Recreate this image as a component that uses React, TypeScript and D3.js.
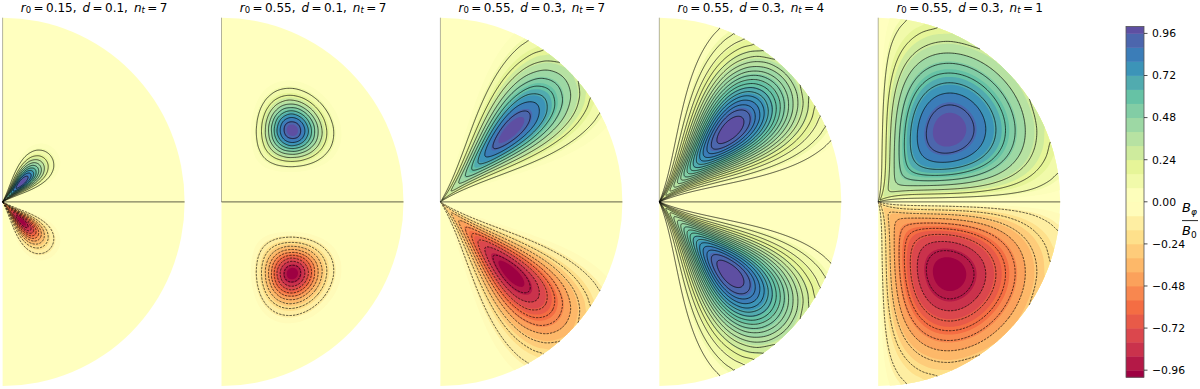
import React from "react";
import * as d3 from "d3";

// ---- values ----
const panelTitles = [
  { r0: "0.15", d: "0.1", nt: "7" },
  { r0: "0.55", d: "0.1", nt: "7" },
  { r0: "0.55", d: "0.3", nt: "7" },
  { r0: "0.55", d: "0.3", nt: "4" },
  { r0: "0.55", d: "0.3", nt: "1" },
];
// radius knots 0, 0.05 ... 1 (fraction of the half-disc radius)
const radialA = [0.325, 0.607, 0.882, 1, 0.882, 0.607, 0.325, 0.135, 0.044, 0.011, 0.002, 0, 0, 0, 0, 0, 0, 0, 0, 0, 0];
const radialB = [0, 0, 0, 0, 0.002, 0.011, 0.044, 0.135, 0.325, 0.607, 0.882, 1, 0.882, 0.607, 0.325, 0.135, 0.044, 0.011, 0.002, 0, 0];
const radialC = [0.186, 0.249, 0.325, 0.411, 0.506, 0.607, 0.707, 0.801, 0.882, 0.946, 0.986, 1, 0.986, 0.946, 0.882, 0.801, 0.707, 0.607, 0.506, 0.411, 0.325];
// polar-angle knots 0, 5 ... 90 degrees from the pole
const angular7 = [0, 0, 0.0006, 0.0078, 0.0454, 0.155, 0.365, 0.647, 0.9, 1, 0.9, 0.647, 0.365, 0.155, 0.0454, 0.0078, 0.0006, 0, 0];
const angular4 = [0, 0.0009, 0.0137, 0.0625, 0.171, 0.344, 0.5625, 0.78, 0.941, 1, 0.941, 0.78, 0.5625, 0.344, 0.171, 0.0625, 0.0137, 0.0009, 0];
const angular1 = [0, 0.174, 0.342, 0.5, 0.643, 0.766, 0.866, 0.94, 0.985, 1, 0.985, 0.94, 0.866, 0.766, 0.643, 0.5, 0.342, 0.174, 0];
const panelRadial = [radialA, radialB, radialC, radialC, radialC];
const panelAngular = [angular7, angular7, angular7, angular4, angular1];
const lowerSign = [-1, -1, -1, 1, -1];
const lineLevels = [
  [0.1, 0.2, 0.3, 0.4, 0.5, 0.6, 0.7, 0.8, 0.9],
  [0.1, 0.2, 0.3, 0.4, 0.5, 0.6, 0.7, 0.8, 0.9],
  [0.1, 0.2, 0.3, 0.4, 0.5, 0.6, 0.7, 0.8, 0.9],
  [0.05, 0.1, 0.15, 0.2, 0.25, 0.3, 0.35, 0.4, 0.45, 0.5, 0.55, 0.6, 0.65, 0.7, 0.75, 0.8, 0.85, 0.9, 0.95],
  [0.1, 0.2, 0.3, 0.4, 0.5, 0.6, 0.7, 0.8, 0.9],
];
const bandEdges = [0.04, 0.08, 0.16, 0.24, 0.32, 0.4, 0.48, 0.56, 0.64, 0.72, 0.8, 0.88, 0.95];
const bandColors = [0.025, 0.11, 0.2, 0.28, 0.36, 0.44, 0.52, 0.6, 0.68, 0.76, 0.84, 0.92, 1];
const colorbarEdges = [-1, -0.96, -0.88, -0.8, -0.72, -0.64, -0.56, -0.48, -0.4, -0.32, -0.24, -0.16, -0.08, 0, 0.08, 0.16, 0.24, 0.32, 0.4, 0.48, 0.56, 0.64, 0.72, 0.8, 0.88, 0.96, 1];
const colorbarColors = [-1, -0.92, -0.84, -0.76, -0.68, -0.6, -0.52, -0.44, -0.36, -0.28, -0.2, -0.11, -0.02, 0.02, 0.11, 0.2, 0.28, 0.36, 0.44, 0.52, 0.6, 0.68, 0.76, 0.84, 0.92, 1];
const colorbarTicks = [0.96, 0.72, 0.48, 0.24, 0, -0.24, -0.48, -0.72, -0.96];
const spectral = ["#9e0142", "#d53e4f", "#f46d43", "#fdae61", "#fee08b", "#ffffbf", "#e6f598", "#abdda4", "#66c2a5", "#3288bd", "#5e4fa2"];
const spectralStops = [-1, -0.8, -0.6, -0.4, -0.2, 0, 0.2, 0.4, 0.6, 0.8, 1];

// ---- layout ----
const W = 1200, H = 389;
const panelX = [2.6, 221.5, 440.4, 659.3, 878.2];
const cy = 201.9;
const Rx = 182, Ry = 184.2;
const cbar = { x: 1126, w: 18, top: 26.4, bottom: 377.2 };
const FONT = "'DejaVu Sans', sans-serif";

const color = d3.scaleLinear<string>().domain(spectralStops).range(spectral).interpolate(d3.interpolateRgb);

// Smooth lookup between the knots of a profile (rendering only).
function sampler(knots: number[]) {
  const n = knots.length - 1;
  return (t: number) => {
    const u = Math.min(Math.max(t, 0), 1) * n;
    const i = Math.min(Math.floor(u), n - 1);
    const f = u - i;
    const p0 = knots[Math.max(i - 1, 0)], p1 = knots[i], p2 = knots[i + 1], p3 = knots[Math.min(i + 2, n)];
    const v = 0.5 * (2 * p1 + (p2 - p0) * f + (2 * p0 - 5 * p1 + 4 * p2 - p3) * f * f + (3 * p1 - p0 - 3 * p2 + p3) * f * f * f);
    return Math.max(v, 0);
  };
}

const NT = 181, NR = 241;

function buildTable(radial: number[], angular: number[]) {
  const fr = sampler(radial), fa = sampler(angular);
  const values = new Float64Array(NT * NR);
  for (let j = 0; j < NR; j++) {
    const a = fr(j / (NR - 1));
    for (let i = 0; i < NT; i++) values[j * NT + i] = a * fa(i / (NT - 1));
  }
  return values;
}

// grid position -> pixel offset from the disc centre (upper half)
function toXY(gx: number, gy: number): [number, number] {
  const th = (Math.min(Math.max(gx - 0.5, 0), NT - 1) / (NT - 1)) * (Math.PI / 2);
  const r = Math.min(Math.max(gy - 0.5, 0), NR - 1) / (NR - 1);
  return [r * Rx * Math.sin(th), -r * Ry * Math.cos(th)];
}

function fillPath(values: Float64Array, level: number, flip: number) {
  const c = d3.contours().size([NT, NR]).contour(values as any, level);
  let out = "";
  for (const poly of c.coordinates) {
    for (const ring of poly) {
      out += "M" + ring.map(([x, y]) => { const p = toXY(x, y); return `${p[0].toFixed(2)},${(p[1] * flip).toFixed(2)}`; }).join("L") + "Z";
    }
  }
  return out;
}

function linePath(values: Float64Array, level: number, flip: number) {
  const c = d3.contours().size([NT, NR]).contour(values as any, level);
  const onEdge = (p: number[]) => p[0] <= 0 || p[0] >= NT || p[1] <= 0 || p[1] >= NR;
  let out = "";
  const gen = d3.line();
  for (const poly of c.coordinates) {
    for (const ring of poly) {
      const pts = ring.slice(0, -1);
      const start = pts.findIndex(onEdge);
      if (start < 0) {
        out += gen(ring.map(([x, y]) => { const p = toXY(x, y); return [p[0], p[1] * flip] as [number, number]; })) + "Z";
        continue;
      }
      let seg: [number, number][] = [];
      for (let k = 0; k <= pts.length; k++) {
        const q = pts[(start + k) % pts.length];
        const p = toXY(q[0], q[1]);
        if (onEdge(q)) {
          // only runs through the interior are drawn: nothing along the arc or the centre
          if (seg.length > 1) {
            seg.push([p[0], p[1] * flip]);
            out += gen(seg);
          }
          seg = [[p[0], p[1] * flip]];
        } else seg.push([p[0], p[1] * flip]);
      }
    }
  }
  return out;
}

function Half({ index, flip, sign }: { index: number; flip: number; sign: number }) {
  const values = React.useMemo(() => buildTable(panelRadial[index], panelAngular[index]), [index]);
  const fills = React.useMemo(
    () => bandEdges.map((lvl, k) => ({ d: fillPath(values, lvl, flip), c: color(sign * bandColors[k]) })),
    [values, flip, sign]
  );
  const lines = React.useMemo(() => lineLevels[index].map((l) => linePath(values, l, flip)), [values, index, flip]);
  return (
    <g>
      {fills.map((f, k) => <path key={k} d={f.d} fill={f.c} />)}
      {lines.map((d, k) => (
        <path key={k} d={d} fill="none" stroke="#000" strokeOpacity={0.75} strokeWidth={0.9}
          strokeDasharray={sign < 0 ? "2.4 1.1" : undefined} strokeLinejoin="round" />
      ))}
    </g>
  );
}

function Title({ index, x }: { index: number; x: number }) {
  const t = panelTitles[index];
  const it = { fontStyle: "italic" as const };
  return (
    <text x={x} y={11.6} textAnchor="middle" fontFamily={FONT} fontSize={12} fill="#000">
      <tspan {...it}>r</tspan>
      <tspan fontSize={8.5} dy={1.8}>0</tspan>
      <tspan dy={-1.8}>{`\u2009=\u2009${t.r0},\u2002`}</tspan>
      <tspan {...it}>d</tspan>
      <tspan>{`\u2009=\u2009${t.d},\u2002`}</tspan>
      <tspan {...it}>n</tspan>
      <tspan fontSize={8.5} {...it} dy={1.8}>t</tspan>
      <tspan dy={-1.8}>{`\u2009=\u2009${t.nt}`}</tspan>
    </text>
  );
}

function Panel({ index }: { index: number }) {
  const x0 = panelX[index];
  const arc = `M0,${-Ry}A${Rx},${Ry} 0 0 1 0,${Ry}Z`;
  return (
    <g>
      <Title index={index} x={x0 + 91.5} />
      <g transform={`translate(${x0},${cy})`}>
        <path d={arc} fill={color(0)} />
        <Half index={index} flip={1} sign={1} />
        <Half index={index} flip={-1} sign={lowerSign[index]} />
        <line x1={0} x2={0} y1={-Ry} y2={0} stroke="#000" strokeOpacity={0.3} strokeWidth={1} />
        <line x1={0} x2={Rx} y1={0} y2={0} stroke="#000" strokeOpacity={0.5} strokeWidth={1.2} />
      </g>
    </g>
  );
}

function Colorbar() {
  const y = d3.scaleLinear().domain([-1, 1]).range([cbar.bottom, cbar.top]);
  const bands = d3.pairs(colorbarEdges);
  return (
    <g fontFamily={FONT} fontSize={10.8} fill="#000">
      {bands.map(([a, b], k) => (
        <rect key={k} x={cbar.x} width={cbar.w} y={y(b)} height={y(a) - y(b) + 0.4} fill={color(colorbarColors[k])} />
      ))}
      <rect x={cbar.x} width={cbar.w} y={cbar.top} height={cbar.bottom - cbar.top} fill="none" stroke="#555" strokeWidth={0.8} />
      {colorbarTicks.map((t) => (
        <g key={t} transform={`translate(${cbar.x + cbar.w},${y(t)})`}>
          <line x2={3.5} stroke="#222" strokeWidth={0.8} />
          <text x={8} dy="0.36em">{t.toFixed(2).replace("-", "\u2212")}</text>
        </g>
      ))}
      <g fontSize={13}>
        <text x={1182} y={212} fontStyle="italic">B<tspan fontSize={9} dy={2.5}>φ</tspan></text>
        <line x1={1182} x2={1198} y1={220.6} y2={220.6} stroke="#111" strokeWidth={0.9} />
        <text x={1182} y={235} fontStyle="italic">B<tspan fontSize={9} fontStyle="normal" dy={2.5}>0</tspan></text>
      </g>
    </g>
  );
}

export default function App() {
  React.useEffect(() => {
    document.body.style.margin = "0";
    document.body.style.background = "#fff";
  }, []);
  return (
    <svg width={W} height={H} viewBox={`0 0 ${W} ${H}`} style={{ display: "block" }}>
      <rect width={W} height={H} fill="#fff" />
      {panelTitles.map((_, i) => <Panel key={i} index={i} />)}
      <Colorbar />
    </svg>
  );
}
